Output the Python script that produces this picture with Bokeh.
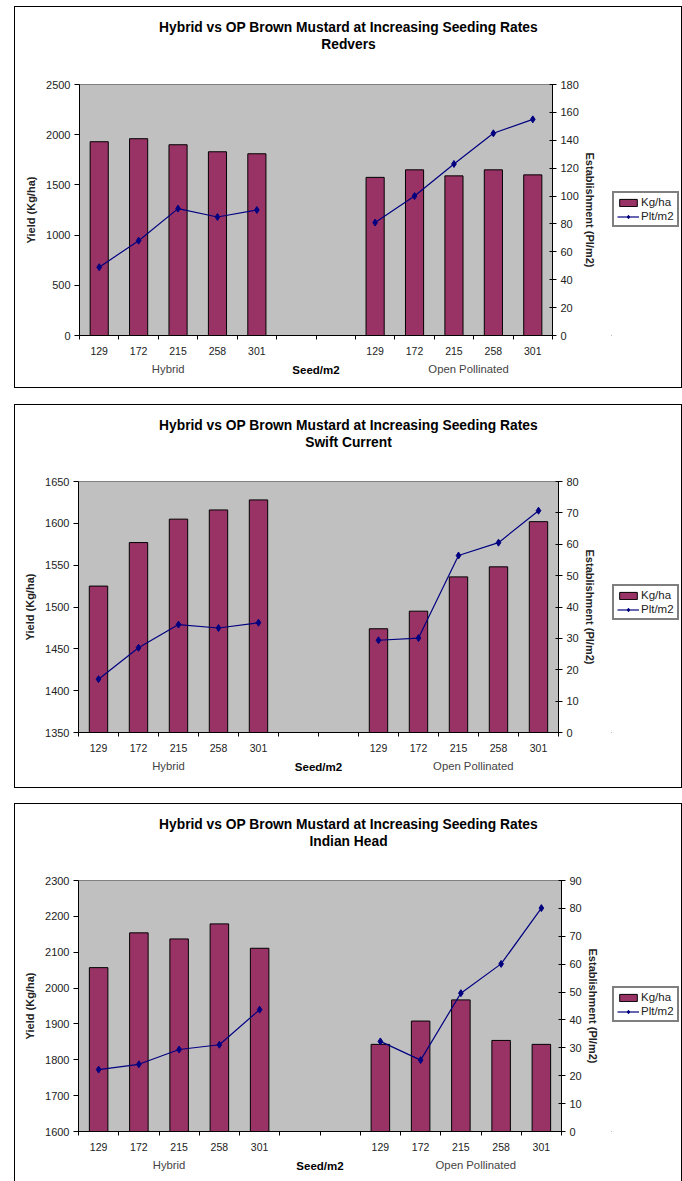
from bokeh.plotting import figure
from bokeh.models import (Range1d, LinearAxis, FixedTicker, Legend,
                          LegendItem, Title)
from bokeh.layouts import column, row
from bokeh.embed import file_html
from bokeh.resources import INLINE

# ---------------- data ----------------
rates = ["129", "172", "215", "258", "301"]
groups = ["Hybrid", "Open Pollinated"]
x_title = "Seed/m2"
title_main = "Hybrid vs OP Brown Mustard at Increasing Seeding Rates"
sites = ["Redvers", "Swift Current", "Indian Head"]
legend_labels = ["Kg/ha", "Plt/m2"]

redvers_hybrid_yield = [1930, 1960, 1900, 1830, 1810]
redvers_op_yield = [1575, 1650, 1590, 1650, 1600]
redvers_hybrid_est = [49, 68, 91, 85, 90]
redvers_op_est = [81, 100, 123, 145, 155]

swift_hybrid_yield = [1525, 1577, 1605, 1616, 1628]
swift_op_yield = [1474, 1495, 1536, 1548, 1602]
swift_hybrid_est = [17, 27, 34.4, 33.3, 35]
swift_op_est = [29.4, 30.1, 56.4, 60.5, 70.7]

indian_hybrid_yield = [2057, 2154, 2137, 2179, 2111]
indian_op_yield = [1843, 1908, 1967, 1854, 1843]
indian_hybrid_est = [22.2, 24.1, 29.4, 31.1, 43.7]
indian_op_est = [32.3, 25.6, 49.6, 60.1, 80.1]

FONT = "Liberation Sans"
BAR = "#993366"
LINE = "#000080"
N_SLOTS = 12
GAP = 2
TITLE_PX = 13.8
LEG_W = 70
# Liberation Sans Bold advance widths (1/1000 em) for title centring
BOLD_W = {"H": 722, "y": 556, "b": 611, "r": 389, "i": 278, "d": 611,
          " ": 278, "v": 556, "s": 556, "O": 778, "P": 667, "B": 722,
          "o": 611, "w": 778, "n": 611, "M": 833, "u": 611, "t": 333,
          "a": 556, "I": 278, "c": 556, "e": 556, "g": 611, "S": 667,
          "R": 722, "f": 333, "C": 722}


def text_w(s, size):
    return sum(BOLD_W.get(ch, 600) for ch in s) / 1000.0 * size


def make_legend(height, leg_y, sample_yield, sample_est):
    # legend-only strip: its renderers sit outside the visible range
    lf = figure(width=LEG_W, height=height, min_border=0,
                x_axis_location=None, y_axis_location=None,
                x_range=Range1d(0, 1), y_range=Range1d(0, 1),
                output_backend="svg", toolbar_location=None,
                outline_line_color=None, background_fill_color="white",
                border_fill_color="white")
    lf.xgrid.visible = False
    lf.ygrid.visible = False
    b = lf.vbar(x=[-10], top=[-sample_yield], bottom=-1e9, width=0.5,
                fill_color=BAR, line_color="black", line_width=1)
    ln = lf.line(x=[-10, -9], y=[-sample_est, -sample_est], line_color=LINE,
                 line_width=1.2)
    sc = lf.scatter(x=[-10], y=[-sample_est], marker="diamond", size=7,
                    fill_color=LINE, line_color=LINE)
    leg = Legend(items=[LegendItem(label=legend_labels[0], renderers=[b]),
                        LegendItem(label=legend_labels[1], renderers=[ln, sc])],
                 location=(1, leg_y))
    leg.border_line_color = "black"
    leg.border_line_width = 2
    leg.background_fill_color = "white"
    leg.background_fill_alpha = 1
    leg.label_text_font = FONT
    leg.label_text_font_size = "11.5px"
    leg.label_text_color = "#222222"
    leg.glyph_width = 22
    leg.glyph_height = 9
    leg.label_height = 12
    leg.label_standoff = 2
    leg.padding = 3
    leg.spacing = 2
    leg.margin = 0
    lf.add_layout(leg, "center")
    return lf


def make_panel(site, hy_y, op_y, hy_e, op_e, yr, er, geom):
    y_lo, y_hi, y_step = yr
    e_hi, e_step = er
    left, fw, top, fh, height, spacer = geom
    total_w = 666 - LEG_W
    right = total_w - left - fw
    bottom = height - top - fh
    p = figure(frame_width=fw, frame_height=fh,
               min_border_left=left, min_border_right=right,
               min_border_top=top, min_border_bottom=bottom,
               x_range=Range1d(0, N_SLOTS), y_range=Range1d(y_lo, y_hi),
               output_backend="svg", toolbar_location=None,
               background_fill_color="#C0C0C0", border_fill_color="white",
               outline_line_color="#808080")
    p.xgrid.visible = False
    p.ygrid.visible = False
    p.extra_y_ranges = {"est": Range1d(0, e_hi)}

    n = len(rates)
    hx = [i + 0.5 for i in range(n)]
    ox = [n + GAP + i + 0.5 for i in range(n)]

    # x axis: labels at slot centres, tick marks at slot boundaries
    xa = p.xaxis[0]
    xa.ticker = FixedTicker(ticks=hx + ox, minor_ticks=list(range(N_SLOTS + 1)))
    overrides = {}
    for xv, r in zip(hx, rates):
        overrides[xv] = r
    for xv, r in zip(ox, rates):
        overrides[xv] = r
    xa.major_label_overrides = overrides
    xa.major_tick_out = 0
    xa.major_tick_in = 0
    xa.minor_tick_out = 4
    xa.minor_tick_in = 0
    xa.minor_tick_line_color = "black"
    xa.axis_line_color = "black"
    xa.major_label_standoff = 7
    xa.major_label_text_font = FONT
    xa.major_label_text_font_size = "10.5px"
    xa.major_label_text_color = "#222222"

    # second row under the x axis: group names + axis title
    gx = [2.25, 9.87]
    ga = LinearAxis(ticker=FixedTicker(ticks=gx, minor_ticks=[]))
    ga.major_label_overrides = {gx[0]: groups[0], gx[1]: groups[1]}
    ga.axis_line_color = None
    ga.major_tick_line_color = None
    ga.minor_tick_line_color = None
    ga.major_tick_out = 0
    ga.major_tick_in = 0
    ga.minor_tick_out = 0
    ga.minor_tick_in = 0
    ga.major_label_standoff = 5
    ga.major_label_text_font = FONT
    ga.major_label_text_font_size = "11.3px"
    ga.major_label_text_color = "#444444"
    ga.axis_label = x_title
    ga.axis_label_text_font = FONT
    ga.axis_label_text_font_size = "11.5px"
    ga.axis_label_text_font_style = "bold"
    ga.axis_label_text_color = "black"
    ga.axis_label_standoff = -14
    p.add_layout(ga, "below")

    ya = p.yaxis[0]
    ya.ticker = FixedTicker(ticks=list(range(y_lo, y_hi + 1, y_step)))
    ya.minor_tick_out = 0
    ya.minor_tick_in = 0
    ya.major_tick_out = 5
    ya.major_tick_in = 0
    ya.major_label_standoff = 4
    ya.major_label_text_font = FONT
    ya.major_label_text_font_size = "11px"
    ya.major_label_text_color = "#222222"
    ya.axis_label = "Yield (Kg/ha)"
    ya.axis_label_text_font = FONT
    ya.axis_label_text_font_size = "11px"
    ya.axis_label_text_font_style = "bold"
    ya.axis_label_text_color = "#222222"
    ya.axis_label_standoff = 6

    ra = LinearAxis(y_range_name="est",
                    ticker=FixedTicker(ticks=list(range(0, e_hi + 1, e_step))))
    ra.minor_tick_out = 0
    ra.minor_tick_in = 0
    ra.major_tick_out = 4
    ra.major_tick_in = 3
    ra.major_label_standoff = 4
    ra.major_label_text_font = FONT
    ra.major_label_text_font_size = "11px"
    ra.major_label_text_color = "#222222"
    ra.axis_label = "Establishment (Pl/m2)"
    ra.axis_label_text_font = FONT
    ra.axis_label_text_font_size = "11px"
    ra.axis_label_text_font_style = "bold"
    ra.axis_label_text_color = "#222222"
    ra.axis_label_standoff = 2
    p.add_layout(ra, "right")

    p.vbar(x=hx, top=hy_y, bottom=y_lo, width=0.46, fill_color=BAR,
           line_color="black", line_width=1)
    p.vbar(x=ox, top=op_y, bottom=y_lo, width=0.46, fill_color=BAR,
           line_color="black", line_width=1)
    p.line(hx, hy_e, y_range_name="est", line_color=LINE, line_width=1.2)
    p.scatter(hx, hy_e, y_range_name="est", marker="diamond", size=7,
              fill_color=LINE, line_color=LINE)
    p.line(ox, op_e, y_range_name="est", line_color=LINE, line_width=1.2)
    p.scatter(ox, op_e, y_range_name="est", marker="diamond", size=7,
              fill_color=LINE, line_color=LINE)

    # spacer between frame and titles, then the two title lines
    sp = LinearAxis(ticker=FixedTicker(ticks=[6.0], minor_ticks=[]))
    sp.major_label_overrides = {6.0: ""}
    sp.axis_line_color = None
    sp.major_tick_line_color = None
    sp.minor_tick_line_color = None
    sp.major_tick_out = spacer
    sp.major_tick_in = 0
    sp.minor_tick_out = 0
    sp.minor_tick_in = 0
    sp.major_label_standoff = 0
    sp.major_label_text_font_size = "1px"
    p.add_layout(sp, "above")

    frame_left_abs = 15 + left
    for txt in (site, title_main):
        w = text_w(txt, TITLE_PX)
        off = 348 - w / 2.0 - frame_left_abs
        t = Title(text=txt, align="left", offset=off, standoff=0,
                  vertical_align="middle", text_font=FONT,
                  text_font_size=f"{TITLE_PX}px", text_font_style="bold",
                  text_color="black")
        p.add_layout(t, "above")
    return p


f1 = make_panel(sites[0], redvers_hybrid_yield, redvers_op_yield,
                redvers_hybrid_est, redvers_op_est,
                (0, 2500, 500), (180, 20),
                (64, 473, 77, 251, 380, 32))
f2 = make_panel(sites[1], swift_hybrid_yield, swift_op_yield,
                swift_hybrid_est, swift_op_est,
                (1350, 1650, 50), (80, 10),
                (63, 480, 76, 251, 382, 31))
f3 = make_panel(sites[2], indian_hybrid_yield, indian_op_yield,
                indian_hybrid_est, indian_op_est,
                (1600, 2300, 100), (90, 10),
                (63, 483, 76, 251, 377, 31))

l1 = make_legend(380, 108, redvers_hybrid_yield[0], redvers_hybrid_est[0])
l2 = make_legend(382, 112, swift_hybrid_yield[0], swift_hybrid_est[0])
l3 = make_legend(377, 109, indian_hybrid_yield[0], indian_hybrid_est[0])

box = {"border": "1px solid #000"}
box3 = {"border": "1px solid #000", "border-bottom": "none"}
c1 = column(row(f1, l1, spacing=0), styles=box, margin=(6, 0, 0, 14))
c2 = column(row(f2, l2, spacing=0), styles=box, margin=(16, 0, 0, 14))
c3 = column(row(f3, l3, spacing=0), styles=box3, margin=(15, 0, 0, 14))

page = column(c1, c2, c3, spacing=0)
open("out.html", "w").write(file_html(page, INLINE))
